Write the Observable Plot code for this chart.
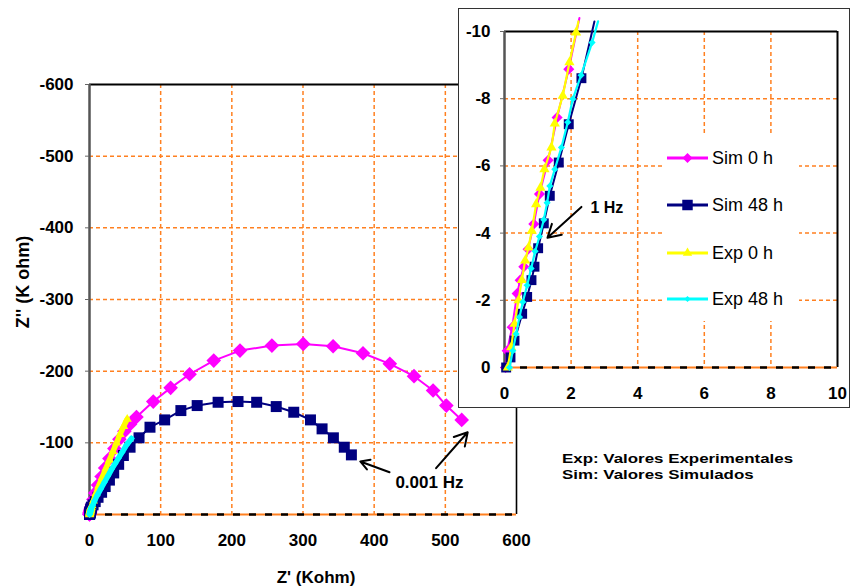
<!DOCTYPE html>
<html><head><meta charset="utf-8">
<script src="https://cdn.jsdelivr.net/npm/d3@7"></script>
<script src="https://cdn.jsdelivr.net/npm/@observablehq/plot@0.6"></script>
<style>
body{margin:0;background:#fff;}
#wrap{position:relative;width:851px;height:588px;overflow:hidden;font-family:"Liberation Sans",Arial,sans-serif;background:#fff;}
#main{position:absolute;left:0;top:0;}
#inset{position:absolute;left:458px;top:8px;width:390px;height:398px;border:1px solid #333;background:#fff;}
#insetPlot{position:absolute;left:0;top:0;}
#legend{position:absolute;left:204px;top:126px;width:136px;height:186px;background:#fff;}
#note{position:absolute;left:562px;top:451px;font-size:13px;font-weight:bold;line-height:16px;transform:scaleX(1.3);transform-origin:0 0;white-space:nowrap;color:#000;}
.axlab{position:absolute;font-weight:bold;white-space:nowrap;color:#000;line-height:1;}
#xlab{left:316px;top:577px;font-size:17px;transform:translate(-50%,-50%);}
#ylab{left:23px;top:282px;font-size:18px;transform:translate(-50%,-50%) rotate(-90deg);}
</style></head>
<body><div id="wrap"><div id="main"></div><div id="inset"><div id="insetPlot"></div><div id="legend"></div></div><div id="note"></div><div id="xlab" class="axlab"></div><div id="ylab" class="axlab"></div></div>
<script>
// ---- data: [Z' (Kohm), Z'' (Kohm)] ----
const sim0h = [
[0.03,0],[0.08,-0.5],[0.23,-1.2],[0.38,-2.2],[0.47,-2.6],[0.58,-3.0],[0.71,-3.52],[0.88,-4.27],[1.05,-5.16],[1.31,-6.17],[1.58,-7.44],[1.93,-8.88],[2.25,-10.4],
[3.5,-14],[5.5,-21],[8,-30],[12,-41],[17,-53],[22,-65],[28,-78],[35,-92],[42,-105],[49,-116],[57,-126],[66,-136],
[89.6,-157.6],[114,-176.7],[140.6,-195.7],[174.6,-214.8],[211.5,-228.7],[256.3,-235.7],[300.3,-238],[342.3,-234.7],[384.3,-225],[422,-210.2],[456,-193],[482.8,-173],[501.4,-152],[523,-132]
];
const sim48h = [
[0.05,0],[0.18,-0.3],[0.3,-0.8],[0.53,-1.6],[0.68,-2.1],[0.81,-2.6],[0.9,-3.0],[1.01,-3.55],[1.18,-4.29],[1.36,-5.11],[1.63,-6.1],[1.93,-7.24],[2.31,-8.61],[2.7,-10.3],
[5,-13.5],[8,-18],[12,-24],[17,-31],[22,-39],[28,-48],[34,-58],[41,-70],[47.6,-82.3],[57,-93.9],[69.6,-107],[85,-121.8],[105.6,-132],[128.4,-145],[151.3,-152],[180.7,-156.6],[208.7,-157.6],[234.9,-156.6],[262.4,-150.6],[287,-142.7],[310.5,-132],[326.8,-119.5],[342.7,-107],[358,-93.9],[368,-83.2]
];
const exp0h = [
[0.1,0],[0.2,-0.6],[0.3,-1.3],[0.42,-2.0],[0.52,-2.6],[0.62,-3.18],[0.72,-3.57],[0.82,-4.07],[0.95,-4.86],[1.08,-5.35],[1.2,-5.9],[1.41,-6.55],[1.51,-7.26],[1.75,-8.09],[1.95,-9.08],[2.15,-9.97],[2.22,-10.3],
[3.5,-12.5],[5.5,-19],[9,-29],[13,-40],[18,-52],[23,-64],[28,-76],[33,-88],[38,-100],[43,-112],[48,-123],[53,-133]
];
const exp48h = [
[0.15,0],[0.25,-0.5],[0.35,-1.0],[0.45,-1.5],[0.55,-1.95],[0.68,-2.45],[0.8,-2.95],[0.92,-3.46],[1.05,-3.9],[1.18,-4.4],[1.28,-4.9],[1.36,-5.4],[1.51,-5.9],[1.71,-6.55],[1.9,-7.3],[2.05,-7.99],[2.3,-8.7],[2.63,-9.67],[2.81,-10.3],
[4.5,-13],[7,-19],[11,-27],[16,-36],[21,-45],[26,-54],[31,-63],[36,-71],[41,-79],[46,-87],[52,-97],[59,-106]
];
const seriesNames = ["Sim 0 h","Sim 48 h","Exp 0 h","Exp 48 h"];
const xTicksMain = [0,100,200,300,400,500,600];
const yTicksMain = [-100,-200,-300,-400,-500,-600];
const xTicksInset = [0,2,4,6,8,10];
const yTicksInset = [0,-2,-4,-6,-8,-10];
const arrowsMain = [{x1:421.6,y1:-59,x2:380.5,y2:-74},{x1:487,y1:-64.6,x2:531.4,y2:-114.8}];
const labelsMain = [{x:477.6,y:-45,text:"0.001 Hz"}];
const arrowsInset = [{x1:2.31,y1:-4.78,x2:1.29,y2:-3.86}];
const labelsInset = [{x:2.58,y:-4.76,text:"1 Hz"}];
const notes = ["Exp: Valores Experimentales","Sim: Valores Simulados"];
const xLabel = "Z' (Kohm)";
const yLabel = "Z'' (K ohm)";

// ---- styles ----
const ORANGE = "#ff8020";
const FONT = "'Liberation Sans', Arial, sans-serif";
const dataBy = {"Sim 0 h":sim0h,"Sim 48 h":sim48h,"Exp 0 h":exp0h,"Exp 48 h":exp48h};
const look = {
  "Sim 0 h":  {color:"#ff00ff", symbol:"diamond2", rMain:6.6, rIn:5,   wMain:2, wIn:2, legSize:64},
  "Sim 48 h": {color:"#000080", symbol:"square",   rMain:6.2, rIn:5.6, wMain:2, wIn:2, legSize:110},
  "Exp 0 h":  {color:"#ffff00", symbol:"triangle", rMain:3.4, rIn:3.8, wMain:5.5, wIn:2.2, legSize:38},
  "Exp 48 h": {color:"#00ffff", symbol:"diamond2", rMain:3,   rIn:3.2, wMain:5.5, wIn:2.2, legSize:24}
};
const X = d => d[0], Y = d => d[1];
const grid = {stroke:ORANGE, strokeWidth:1.5, strokeDasharray:"4,3"};

function seriesMarks(inset) {
  const marks = [];
  for (const name of seriesNames) {
    const s = look[name];
    let data = dataBy[name];
    let dots = data;
    if (inset) {
      data = data.filter(d => d[1] >= -10.45 && d[0] <= 10);
      dots = data.filter(d => d[1] >= -10.05);
    }
    marks.push(Plot.line(data, {x:X, y:Y, stroke:s.color, strokeWidth: inset ? s.wIn : s.wMain}));
    marks.push(Plot.dot(dots, {x:X, y:Y, symbol:s.symbol, fill:s.color, stroke:"none", r: inset ? s.rIn : s.rMain}));
  }
  return marks;
}

// ---- main chart ----
const main = Plot.plot({
  width: 851, height: 588,
  marginLeft: 89, marginRight: 335, marginTop: 84, marginBottom: 74,
  x: {domain:[0,600]},
  y: {domain:[0,-600]},
  style: {fontFamily: FONT, fontSize: "17px", fontWeight: "bold", color: "#000", background: "transparent", overflow: "visible"},
  marks: [
    Plot.ruleX(xTicksMain.filter(d => d > 0 && d < 600), grid),
    Plot.ruleY(yTicksMain.filter(d => d > -600), grid),
    Plot.ruleY([-600], {stroke:"#000", strokeWidth:2.2}),
    Plot.ruleX([600], {stroke:"#000", strokeWidth:1.6}),
    Plot.ruleY([0], {stroke:ORANGE, strokeWidth:2}),
    Plot.ruleY([0], {stroke:"#000", strokeWidth:2.5, strokeDasharray:"7,9"}),
    Plot.ruleX([0], {stroke:"#555", strokeWidth:2.5}),
    Plot.axisX({ticks:xTicksMain, tickSize:0, tickPadding:19, tickFormat:d => String(d), label:null}),
    Plot.axisY({ticks:yTicksMain, tickSize:4, tickPadding:12, stroke:"#666", tickFormat:d => "-" + Math.abs(d), label:null}),
    ...seriesMarks(false),
    Plot.arrow(arrowsMain, {x1:"x1", y1:"y1", x2:"x2", y2:"y2", stroke:"#000", strokeWidth:2, headLength:11}),
    Plot.text(labelsMain, {x:"x", y:"y", text:"text", fontSize:17, fontWeight:"bold", fill:"#000"})
  ]
});
document.getElementById("main").append(main);

// ---- inset ----
const inset = Plot.plot({
  width: 390, height: 398,
  marginLeft: 45, marginRight: 12, marginTop: 22, marginBottom: 40,
  x: {domain:[0,10]},
  y: {domain:[0,-10]},
  style: {fontFamily: FONT, fontSize: "17px", fontWeight: "bold", color: "#000", background: "transparent", overflow: "visible"},
  marks: [
    Plot.ruleX(xTicksInset.filter(d => d > 0 && d < 10), grid),
    Plot.ruleY(yTicksInset.filter(d => d < 0 && d > -10), grid),
    Plot.ruleY([-10], {stroke:"#000", strokeWidth:2.2}),
    Plot.ruleX([10], {stroke:"#000", strokeWidth:2}),
    Plot.ruleY([0], {stroke:ORANGE, strokeWidth:2}),
    Plot.ruleY([0], {stroke:"#000", strokeWidth:2.5, strokeDasharray:"7,9"}),
    Plot.ruleX([0], {stroke:"#555", strokeWidth:2.5}),
    Plot.axisX({ticks:xTicksInset, tickSize:0, tickPadding:19, tickFormat:d => String(d), label:null}),
    Plot.axisY({ticks:yTicksInset, tickSize:4, tickPadding:10, stroke:"#666", tickFormat:d => d === 0 ? "0" : "-" + Math.abs(d), label:null}),
    ...seriesMarks(true),
    Plot.arrow(arrowsInset, {x1:"x1", y1:"y1", x2:"x2", y2:"y2", stroke:"#000", strokeWidth:2, headLength:11}),
    Plot.text(labelsInset, {x:"x", y:"y", text:"text", textAnchor:"start", fontSize:16, fontWeight:"bold", fill:"#000"})
  ]
});
document.getElementById("insetPlot").append(inset);

// ---- legend ----
const leg = d3.select("#legend").append("svg").attr("width",136).attr("height",186);
const symType = {diamond2: d3.symbolDiamond2, square: d3.symbolSquare, triangle: d3.symbolTriangle};
const legY = [23, 70, 118, 164];
seriesNames.forEach((name, i) => {
  const s = look[name];
  const g = leg.append("g").attr("transform", `translate(0,${legY[i]})`);
  g.append("line").attr("x1",4).attr("x2",45).attr("y1",0).attr("y2",0).attr("stroke",s.color).attr("stroke-width",3);
  g.append("path").attr("d", d3.symbol(symType[s.symbol], s.legSize)()).attr("transform","translate(24.5,0)").attr("fill",s.color);
  g.append("text").attr("x",49).attr("y",0).attr("dy","0.36em").attr("font-family",FONT).attr("font-size",18).attr("fill","#000").text(name);
});

// ---- texts ----
document.getElementById("note").innerHTML = notes.join("<br>");
document.getElementById("xlab").textContent = xLabel;
document.getElementById("ylab").textContent = yLabel;
</script>
</body></html>
